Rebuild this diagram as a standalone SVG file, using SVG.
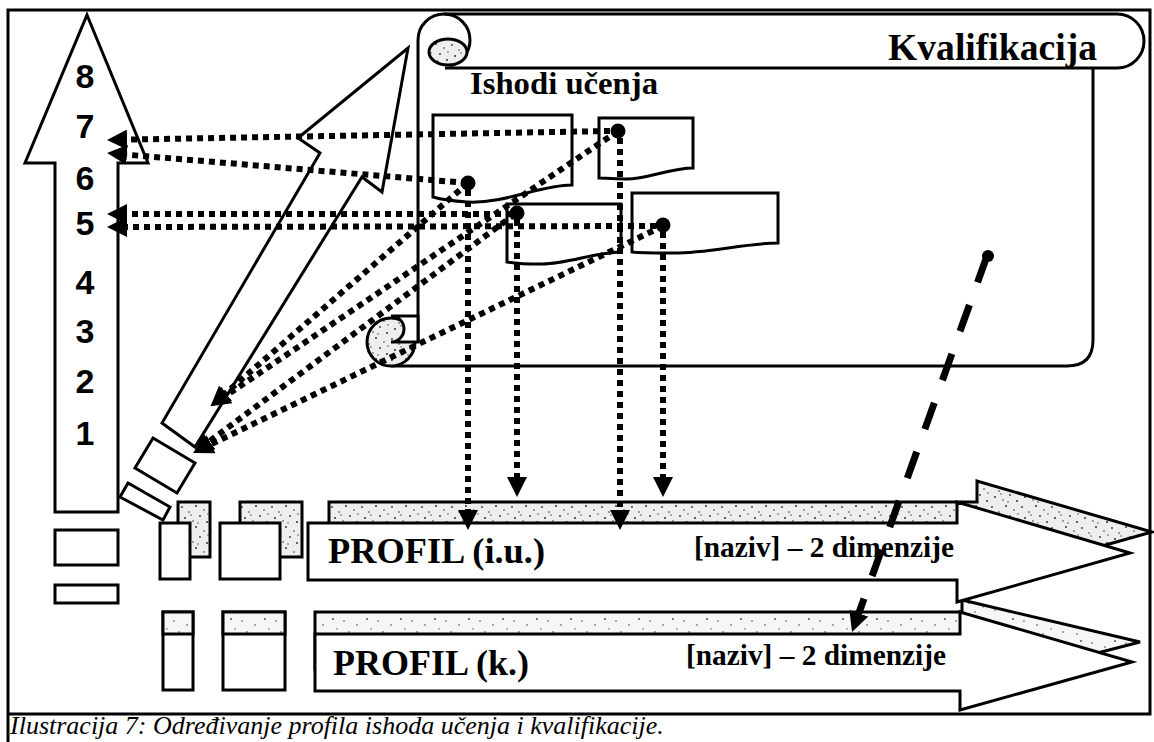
<svg xmlns="http://www.w3.org/2000/svg" width="1154" height="742" viewBox="0 0 1154 742">
<defs>
<pattern id="stipA" width="30" height="21" patternUnits="userSpaceOnUse">
<rect width="30" height="21" fill="#eeeeee"/>
<g fill="#333">
<circle cx="2" cy="3" r="0.9"/><circle cx="9" cy="8" r="0.8"/><circle cx="16" cy="2" r="1"/><circle cx="24" cy="6" r="0.8"/>
<circle cx="5" cy="14" r="1"/><circle cx="13" cy="17" r="0.8"/><circle cx="20" cy="12" r="0.9"/><circle cx="27" cy="18" r="1"/>
<circle cx="11" cy="11" r="0.7"/><circle cx="28" cy="10" r="0.7"/><circle cx="18" cy="19" r="0.7"/>
</g>
</pattern>
<pattern id="stipB" width="34" height="22" patternUnits="userSpaceOnUse">
<rect width="34" height="22" fill="#f6f6f6"/>
<g fill="#444">
<circle cx="4" cy="5" r="0.8"/><circle cx="17" cy="9" r="0.8"/><circle cx="27" cy="3" r="0.9"/>
<circle cx="9" cy="16" r="0.8"/><circle cx="23" cy="18" r="0.8"/><circle cx="31" cy="13" r="0.7"/>
</g>
</pattern>
<marker id="ah" markerUnits="userSpaceOnUse" markerWidth="20" markerHeight="20" viewBox="0 0 20 20" refX="0" refY="10" orient="auto">
<path d="M0,0 L20,10 L0,20 Z" fill="#000"/>
</marker>
</defs>
<style>
.ln{fill:none;stroke:#000;stroke-width:3}
.wh{fill:#fff;stroke:#000;stroke-width:3;stroke-linejoin:miter}
.sa{fill:url(#stipA);stroke:#000;stroke-width:3}
.sb{fill:url(#stipB);stroke:#000;stroke-width:3}
.dot{fill:none;stroke:#000;stroke-width:6;stroke-dasharray:6 5}
.dash{fill:none;stroke:#000;stroke-width:7;stroke-dasharray:28 24}
.num{font-family:"Liberation Sans",Arial,sans-serif;font-weight:bold;font-size:34px;text-anchor:middle;fill:#000}
.ser{font-family:"Liberation Serif","Times New Roman",serif;font-weight:bold;fill:#000}
.cap{font-family:"Liberation Serif","Times New Roman",serif;font-style:italic;font-size:26px;fill:#000}
</style>
<rect width="1154" height="742" fill="#fff"/>

<g id="frame">
<path class="ln" d="M8,742 V10 H1150 V714 H8" stroke-width="2"/>
</g>

<g id="kvalifikacija">
<path class="ln" d="M444,14 H1117 C1133,14 1144,27 1144,41 C1144,55 1133,68 1117,68 H445"/>
<path class="ln" d="M1093,68 V340 Q1093,366 1067,366 H391"/>
<path class="ln" d="M418,342 V40 A26,26 0 0 1 470,40 C470,52 462,62 450,66"/>
<ellipse class="sa" cx="448" cy="52" rx="19" ry="13"/>
<circle class="sa" cx="391" cy="342" r="24"/>
<path d="M391,316 H418 V342 H391 A13,13 0 0 0 391,316 Z" fill="#fff" stroke="#000" stroke-width="3"/>
<text class="ser" x="888" y="60" font-size="37" textLength="209" lengthAdjust="spacingAndGlyphs">Kvalifikacija</text>
<text class="ser" x="470" y="94" font-size="32" textLength="188" lengthAdjust="spacingAndGlyphs">Ishodi učenja</text>
</g>

<g id="doc1"><path class="wh" d="M433,115 H572 V185 C540,185 505,204 467,202 C452,201 440,199 433,197 Z"/></g>
<g id="doc2"><path class="wh" d="M599,118 H693 V168 C670,168 645,180 625,179 C612,179 604,178 599,178 Z"/></g>
<g id="doc3"><path class="wh" d="M507,204 H621 V252 C595,252 565,265 540,264 C525,264 514,263 507,262 Z"/></g>
<g id="doc4"><path class="wh" d="M632,193 H778 V243 C745,243 705,254 670,253 C652,253 640,253 632,252 Z"/></g>

<g id="level-arrow">
<polygon class="wh" points="87,15 148,163 118,163 118,512 55,512 55,163 25,163"/>
<text class="num" x="85" y="88">8</text>
<text class="num" x="85" y="138">7</text>
<text class="num" x="85" y="190">6</text>
<text class="num" x="85" y="235">5</text>
<text class="num" x="85" y="294">4</text>
<text class="num" x="85" y="343">3</text>
<text class="num" x="85" y="393">2</text>
<text class="num" x="85" y="445">1</text>
</g>

<g id="diagonal-arrow">
<polygon class="wh" points="408,48 382,192 362,177 195,447 162,423 320,153 298,138"/>
<polygon class="wh" points="153,438 195,463 177,493 135,468"/>
<polygon class="wh" points="128,483 170,507 163,520 120,497"/>
</g>

<g id="left-blocks">
<rect class="wh" x="55" y="530" width="63" height="35"/>
<rect class="wh" x="55" y="585" width="63" height="18"/>
<rect class="sa" x="178" y="502" width="32" height="55"/>
<rect class="wh" x="160" y="523" width="30" height="56"/>
<rect class="sa" x="240" y="502" width="62" height="55"/>
<rect class="wh" x="220" y="523" width="60" height="56"/>
<rect class="wh" x="163" y="612" width="30" height="78"/>
<rect class="sb" x="163" y="612" width="30" height="22"/>
<rect class="wh" x="223" y="612" width="62" height="78"/>
<rect class="sb" x="223" y="612" width="62" height="22"/>
</g>

<g id="profil-k">
<polygon class="sb" points="315,612 962,612 962,600 1140,642 962,688 962,669 315,669"/>
<polygon class="wh" points="315,634 960,634 960,612 1132,662 960,710 960,691 315,691"/>
<text class="ser" x="333" y="675" font-size="36">PROFIL (k.)</text>
<text class="ser" x="686" y="665" font-size="29" textLength="260" lengthAdjust="spacingAndGlyphs">[naziv] – 2 dimenzije</text>
</g>

<g id="profil-iu">
<polygon class="sa" points="329,502 977,502 977,481 1152,532 977,581 977,559 329,559"/>
<polygon class="wh" points="308,523 957,523 957,502 1130,553 957,602 957,580 308,580"/>
<text class="ser" x="328" y="563" font-size="35" textLength="217" lengthAdjust="spacingAndGlyphs">PROFIL (i.u.)</text>
<text class="ser" x="694" y="557" font-size="29" textLength="260" lengthAdjust="spacingAndGlyphs">[naziv] – 2 dimenzije</text>
</g>

<g id="connectors">
<path class="dot" d="M610,131 L127,139.6" marker-end="url(#ah)"/>
<path class="dot" d="M467,183 L127,154.7" marker-end="url(#ah)"/>
<path class="dot" d="M512,214 L127,214" marker-end="url(#ah)"/>
<path class="dot" d="M656,226 L127,227" marker-end="url(#ah)"/>
<path class="dot" d="M618,131 L227,395" marker-end="url(#ah)"/>
<path class="dot" d="M468,183 L225.6,393.2" marker-end="url(#ah)"/>
<path class="dot" d="M515,214 L209.4,441.3" marker-end="url(#ah)"/>
<path class="dot" d="M663,226 L211.2,444.2" marker-end="url(#ah)"/>
<path class="dot" d="M468,190 V510" marker-end="url(#ah)"/>
<path class="dot" d="M517,220 V477" marker-end="url(#ah)"/>
<path class="dot" d="M620,138 V510" marker-end="url(#ah)"/>
<path class="dot" d="M663,232 V477" marker-end="url(#ah)"/>
<path class="dash" d="M987,256 L858.8,613.2" marker-end="url(#ah)"/>
<circle cx="618" cy="131" r="7.5" fill="#000"/>
<circle cx="468" cy="183" r="7.5" fill="#000"/>
<circle cx="517" cy="213" r="7.5" fill="#000"/>
<circle cx="663" cy="225" r="7.5" fill="#000"/>
<circle cx="988" cy="256" r="6" fill="#000"/>
</g>

<text class="cap" x="10" y="734">Ilustracija 7: Određivanje profila ishoda učenja i kvalifikacije.</text>
</svg>
